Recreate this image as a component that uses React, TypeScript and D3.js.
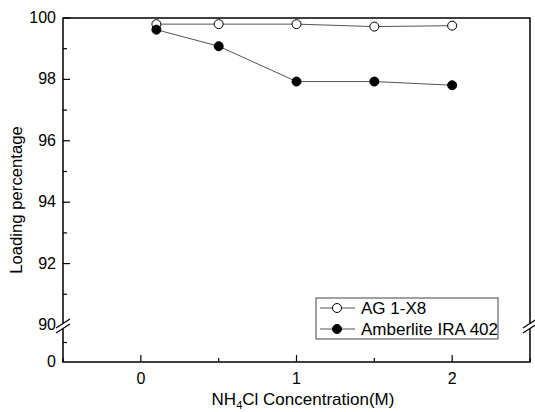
import React, { useEffect, useRef } from "react";
import * as d3 from "d3";

const concentrations = [0.1, 0.5, 1, 1.5, 2];
const ag1x8 = [99.8, 99.8, 99.8, 99.72, 99.75];
const amberlite = [99.62, 99.08, 97.93, 97.93, 97.81];
const seriesNames = ["AG 1-X8", "Amberlite IRA 402"];
const yMajorTicks = [90, 92, 94, 96, 98, 100];
const xMajorTicks = [0, 1, 2];

export default function App() {
  const ref = useRef<SVGSVGElement>(null);

  useEffect(() => {
    const width = 535;
    const height = 412;
    const left = 63, right = 530, top = 18, bottom = 362;
    const font = "Liberation Sans, Arial, sans-serif";
    const tickFont = "Liberation Sans Narrow, Arial Narrow, Liberation Sans, sans-serif";

    const svg = d3.select(ref.current).attr("width", width).attr("height", height);
    svg.selectAll("*").remove();

    const x = d3.scaleLinear().domain([-0.5, 2.5]).range([left, right]);
    const y = d3.scaleLinear().domain([90, 100]).range([325, top]);
    // lower segment below the break, only 0 is shown
    const yLow = d3.scaleLinear().domain([0, 1]).range([bottom, 325]);

    const g = svg.append("g");

    // frame
    g.append("rect")
      .attr("x", left).attr("y", top)
      .attr("width", right - left).attr("height", bottom - top)
      .attr("fill", "none").attr("stroke", "#000").attr("stroke-width", 1.5);

    // x ticks (inward)
    const xMinor = d3.range(-0.5, 2.51, 0.5).filter(v => !xMajorTicks.includes(v));
    g.selectAll(".xt").data(xMajorTicks).join("line")
      .attr("x1", d => x(d)).attr("x2", d => x(d))
      .attr("y1", bottom).attr("y2", bottom - 7)
      .attr("stroke", "#000").attr("stroke-width", 1.2);
    g.selectAll(".xm").data(xMinor).join("line")
      .attr("x1", d => x(d)).attr("x2", d => x(d))
      .attr("y1", bottom).attr("y2", bottom - 4)
      .attr("stroke", "#000").attr("stroke-width", 1.2);
    g.selectAll(".xl").data(xMajorTicks).join("text")
      .attr("x", d => x(d)).attr("y", bottom + 22)
      .attr("text-anchor", "middle").attr("font-family", tickFont).attr("font-size", 16)
      .text(d => d);

    // y ticks (inward)
    const yMinor = d3.range(91, 100, 2);
    g.selectAll(".yt").data(yMajorTicks.filter(d => d !== 90)).join("line")
      .attr("x1", left).attr("x2", left + 7)
      .attr("y1", d => y(d)).attr("y2", d => y(d))
      .attr("stroke", "#000").attr("stroke-width", 1.2);
    g.selectAll(".ym").data(yMinor).join("line")
      .attr("x1", left).attr("x2", left + 4)
      .attr("y1", d => y(d)).attr("y2", d => y(d))
      .attr("stroke", "#000").attr("stroke-width", 1.2);
    g.append("line")
      .attr("x1", left).attr("x2", left + 4)
      .attr("y1", yLow(0.5) - 1).attr("y2", yLow(0.5) - 1)
      .attr("stroke", "#000").attr("stroke-width", 1.2);
    g.selectAll(".yl").data(yMajorTicks).join("text")
      .attr("x", left - 7).attr("y", d => y(d) + 5)
      .attr("text-anchor", "end").attr("font-family", tickFont).attr("font-size", 16)
      .text(d => d);
    g.append("text")
      .attr("x", left - 7).attr("y", yLow(0) + 5)
      .attr("text-anchor", "end").attr("font-family", tickFont).attr("font-size", 16)
      .text("0");

    // axis breaks
    [left, right].forEach(ax => {
      g.append("polygon")
        .attr("points", `${ax - 7},${333} ${ax + 7},${324} ${ax + 7},${319} ${ax - 7},${328}`)
        .attr("fill", "#fff");
      g.append("line").attr("x1", ax - 7).attr("y1", 333).attr("x2", ax + 7).attr("y2", 324)
        .attr("stroke", "#000").attr("stroke-width", 1.2);
      g.append("line").attr("x1", ax - 7).attr("y1", 328).attr("x2", ax + 7).attr("y2", 319)
        .attr("stroke", "#000").attr("stroke-width", 1.2);
    });

    // series
    const line = d3.line<[number, number]>().x(d => x(d[0])).y(d => y(d[1]));
    const series = [
      { values: ag1x8, fill: "#fff" },
      { values: amberlite, fill: "#000" },
    ];
    series.forEach(s => {
      const pts = concentrations.map((c, i) => [c, s.values[i]] as [number, number]);
      g.append("path").attr("d", line(pts)).attr("fill", "none")
        .attr("stroke", "#555").attr("stroke-width", 1);
      g.selectAll(null).data(pts).join("circle")
        .attr("cx", d => x(d[0])).attr("cy", d => y(d[1])).attr("r", 4.5)
        .attr("fill", s.fill).attr("stroke", "#000").attr("stroke-width", 1);
    });

    // legend
    const lg = g.append("g");
    lg.append("rect").attr("x", 316).attr("y", 298).attr("width", 182).attr("height", 41)
      .attr("fill", "#fff").attr("stroke", "#444").attr("stroke-width", 1);
    series.forEach((s, i) => {
      const ly = 308 + i * 21;
      lg.append("line").attr("x1", 320).attr("x2", 355).attr("y1", ly).attr("y2", ly)
        .attr("stroke", "#555").attr("stroke-width", 1);
      lg.append("circle").attr("cx", 337).attr("cy", ly).attr("r", 4.5)
        .attr("fill", s.fill).attr("stroke", "#000");
      lg.append("text").attr("x", 361).attr("y", ly + 6)
        .attr("font-family", font).attr("font-size", 17).text(seriesNames[i]);
    });

    // axis titles
    g.append("text")
      .attr("transform", `translate(22,200) rotate(-90)`)
      .attr("text-anchor", "middle").attr("font-family", font).attr("font-size", 16.7)
      .text("Loading percentage");
    const xt = g.append("text")
      .attr("x", 303).attr("y", 405)
      .attr("text-anchor", "middle").attr("font-family", font).attr("font-size", 17);
    xt.append("tspan").text("NH");
    xt.append("tspan").attr("font-size", 11).attr("dy", 4).text("4");
    xt.append("tspan").attr("dy", -4).text("Cl Concentration(M)");
  }, []);

  return (
    <svg ref={ref} style={{ position: "absolute", left: 0, top: 0 }} />
  );
}
